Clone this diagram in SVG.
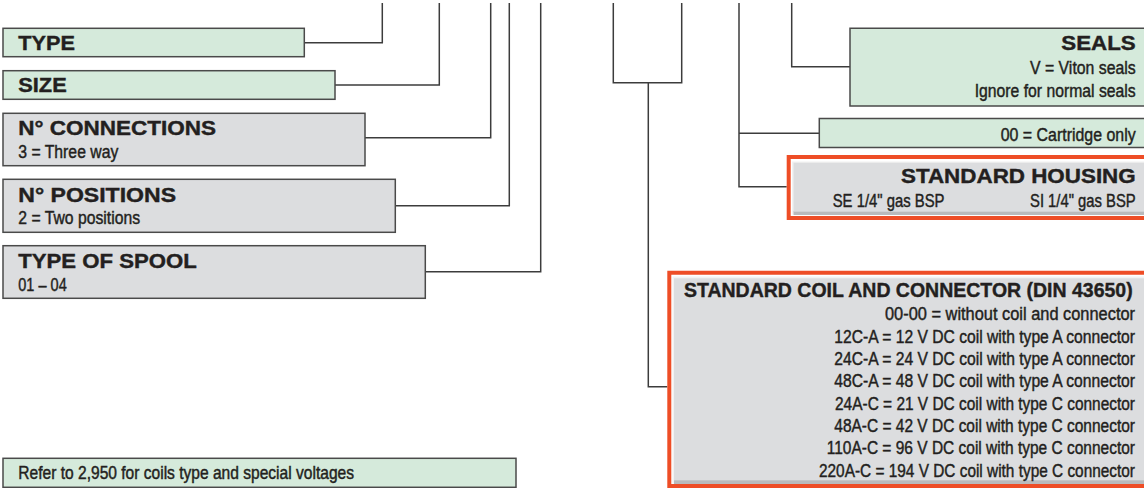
<svg xmlns="http://www.w3.org/2000/svg" width="1144" height="488" viewBox="0 0 1144 488">
<style>
.bg{fill:#ffffff}
.green{fill:#d5eadb;stroke:#4a4a4a;stroke-width:1.5}
.gray{fill:#dcdddf;stroke:#4a4a4a;stroke-width:1.5}
.gfill{fill:#d5eadb}
.edge{fill:none;stroke:#4a4a4a;stroke-width:1.5}
.red{fill:none;stroke:#ee4d26;stroke-width:4}
.inner{fill:#dcdddf}
.shade{fill:#b9babc}
.hl{fill:#f2f2f2}
.conn{fill:none;stroke:#3c3c3c;stroke-width:1.5}
.t{font-family:"Liberation Sans",Arial,sans-serif;font-weight:bold;font-size:20px;fill:#231f20;stroke:#231f20;stroke-width:0.4}
.s{font-family:"Liberation Sans",Arial,sans-serif;font-size:14.6px;fill:#231f20;stroke:#231f20;stroke-width:0.35}
.b{font-family:"Liberation Sans",Arial,sans-serif;font-size:13.8px;fill:#231f20;stroke:#231f20;stroke-width:0.35}
.e{text-anchor:end}
</style>
<rect class="bg" x="0" y="0" width="1144" height="488"/>
<g id="connectors">
<path class="conn" d="M304.5 42.7 H382.3 V3"/>
<path class="conn" d="M335 85 H439.3 V3"/>
<path class="conn" d="M365 137.7 H490.7 V3"/>
<path class="conn" d="M395.3 205.7 H509.3 V3"/>
<path class="conn" d="M425.3 271.7 H540.7 V3"/>
<path class="conn" d="M613.3 3 V82.7 H681.7 V3"/>
<path class="conn" d="M648.3 82.7 V386.7 H667.3"/>
<path class="conn" d="M739 3 V186.7 H786.7"/>
<path class="conn" d="M739 133.3 H819.3"/>
<path class="conn" d="M791.7 3 V66.7 H850"/>
</g>
<g id="type">
<rect class="green" x="3" y="28.3" width="301.3" height="28.4"/>
<text class="t" x="18.3" y="50" textLength="56.7" lengthAdjust="spacingAndGlyphs">TYPE</text>
</g>
<g id="size">
<rect class="green" x="3" y="70.7" width="332" height="28.6"/>
<text class="t" x="18.3" y="92.3" textLength="48.4" lengthAdjust="spacingAndGlyphs">SIZE</text>
</g>
<g id="connections">
<rect class="gray" x="3" y="113.3" width="362" height="52.4"/>
<text class="t" x="18.3" y="135" textLength="197.7" lengthAdjust="spacingAndGlyphs">N° CONNECTIONS</text>
<text class="s" transform="translate(18.3 158.3) scale(1 1.267)" textLength="100" lengthAdjust="spacingAndGlyphs">3 = Three way</text>
</g>
<g id="positions">
<rect class="gray" x="3" y="179.3" width="392.3" height="53"/>
<text class="t" x="18.3" y="201.7" textLength="157.7" lengthAdjust="spacingAndGlyphs">N° POSITIONS</text>
<text class="s" transform="translate(18.3 224) scale(1 1.267)" textLength="121.7" lengthAdjust="spacingAndGlyphs">2 = Two positions</text>
</g>
<g id="spool">
<rect class="gray" x="3" y="245.7" width="422.3" height="52.6"/>
<text class="t" x="18.3" y="268.3" textLength="178.4" lengthAdjust="spacingAndGlyphs">TYPE OF SPOOL</text>
<text class="s" transform="translate(18.3 290.7) scale(1 1.267)" textLength="48.4" lengthAdjust="spacingAndGlyphs">01 – 04</text>
</g>
<g id="refer">
<rect class="green" x="3" y="458.3" width="513" height="29"/>
<text class="b" transform="translate(18.3 479.3) scale(1 1.267)" textLength="335.7" lengthAdjust="spacingAndGlyphs">Refer to 2,950 for coils type and special voltages</text>
</g>
<g id="seals">
<rect class="gfill" x="850" y="28.3" width="294" height="77.7"/>
<path class="edge" d="M1144 28.3 H850 V106 H1144"/>
<text class="t e" x="1135.7" y="50" textLength="74.4" lengthAdjust="spacingAndGlyphs">SEALS</text>
<text class="s e" transform="translate(1135.7 74.3) scale(1 1.267)" textLength="105.7" lengthAdjust="spacingAndGlyphs">V = Viton seals</text>
<text class="s e" transform="translate(1135.7 97.3) scale(1 1.267)" textLength="161" lengthAdjust="spacingAndGlyphs">Ignore for normal seals</text>
</g>
<g id="cartridge">
<rect class="gfill" x="819.3" y="118.5" width="324.7" height="29"/>
<path class="edge" d="M1144 118.5 H819.3 V147.5 H1144"/>
<text class="s e" transform="translate(1135.7 140.7) scale(1 1.267)" textLength="135" lengthAdjust="spacingAndGlyphs">00 = Cartridge only</text>
</g>
<g id="housing">
<rect class="hl" x="792" y="161.5" width="352" height="53"/>
<rect class="shade" x="793.5" y="211" width="350.5" height="4"/>
<rect class="inner" x="793.5" y="162.7" width="350.5" height="49"/>
<path class="red" d="M1144 157 H788.7 V218 H1144"/>
<text class="t e" x="1135.7" y="182.7" textLength="234.7" lengthAdjust="spacingAndGlyphs">STANDARD HOUSING</text>
<text class="s" transform="translate(832.7 206.7) scale(1 1.267)" textLength="111.8" lengthAdjust="spacingAndGlyphs">SE 1/4" gas BSP</text>
<text class="s e" transform="translate(1135.7 206.7) scale(1 1.267)" textLength="105.7" lengthAdjust="spacingAndGlyphs">SI 1/4" gas BSP</text>
</g>
<g id="coil">
<rect class="hl" x="672.5" y="276.5" width="471.5" height="207"/>
<rect class="shade" x="674" y="480" width="470" height="4"/>
<rect class="inner" x="674" y="278.3" width="470" height="202"/>
<path class="red" d="M1144 272.7 H669.3 V486 H1144"/>
<text class="t" x="684" y="297.3" textLength="448.7" lengthAdjust="spacingAndGlyphs">STANDARD COIL AND CONNECTOR (DIN 43650)</text>
<text class="s e" transform="translate(1135 320) scale(1 1.267)" textLength="250" lengthAdjust="spacingAndGlyphs">00-00 =  without coil and connector</text>
<text class="s e" transform="translate(1135 342.7) scale(1 1.267)" textLength="300.7" lengthAdjust="spacingAndGlyphs">12C-A = 12 V DC coil with type A connector</text>
<text class="s e" transform="translate(1135 365) scale(1 1.267)" textLength="300.7" lengthAdjust="spacingAndGlyphs">24C-A = 24 V DC coil with type A connector</text>
<text class="s e" transform="translate(1135 387.3) scale(1 1.267)" textLength="300.7" lengthAdjust="spacingAndGlyphs">48C-A = 48 V DC coil with type A connector</text>
<text class="s e" transform="translate(1135 410) scale(1 1.267)" textLength="300" lengthAdjust="spacingAndGlyphs">24A-C = 21 V DC coil with type C connector</text>
<text class="s e" transform="translate(1135 432) scale(1 1.267)" textLength="300.7" lengthAdjust="spacingAndGlyphs">48A-C = 42 V DC coil with type C connector</text>
<text class="s e" transform="translate(1135 454.3) scale(1 1.267)" textLength="308.3" lengthAdjust="spacingAndGlyphs">110A-C = 96 V DC coil with type C connector</text>
<text class="s e" transform="translate(1135 476.7) scale(1 1.267)" textLength="316" lengthAdjust="spacingAndGlyphs">220A-C = 194 V DC coil with type C connector</text>
</g>
</svg>
